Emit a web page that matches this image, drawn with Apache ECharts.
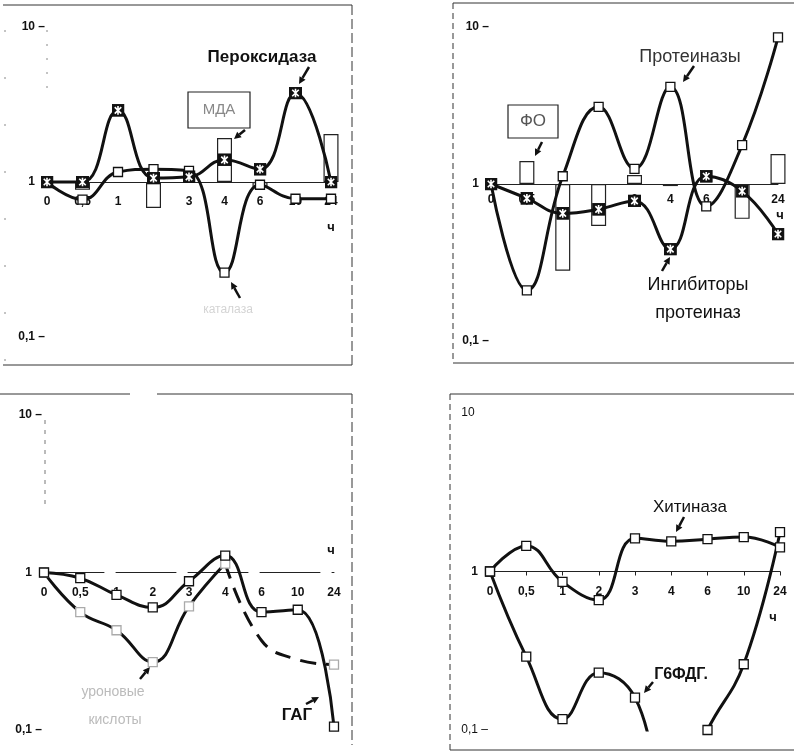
<!DOCTYPE html>
<html>
<head>
<meta charset="utf-8">
<script src="https://cdn.jsdelivr.net/npm/echarts@6/dist/echarts.min.js"></script>
<style>
  html, body { margin: 0; padding: 0; background: #fff; }
  #chart { width: 794px; height: 754px; }
</style>
</head>
<body>
<div id="chart"></div>
<script>
// Time points after treatment, hours
const hours = ['0', '0,5', '1', '2', '3', '4', '6', '10', '24'];

// Panel A: peroxidase, catalase, MDA (relative to control, log scale)
const peroxidase = [1, 1, 2.9, 1.06, 1.08, 1.39, 1.21, 3.75, 1.0];
const catalase   = [1, 0.77, 1.16, 1.21, 1.18, 0.26, 0.96, 0.78, 0.78];
const mda        = [null, 0.89, null, 0.68, null, 1.92, 0.93, null, 2.04];

// Panel B: proteinases, proteinase inhibitors, phenol oxidase
const proteinases = [1, 0.21, 1.12, 3.1, 1.25, 4.15, 0.72, 1.77, 8.6];
const inhibitors  = [1, 0.81, 0.65, 0.69, 0.78, 0.385, 1.12, 0.9, 0.48];
const phenolOx    = [null, 1.4, 0.28, 0.54, 1.14, 0.97, null, 0.6, 1.55];

// Panel C: glycosaminoglycans and uronic acids
const gag        = [1, 0.92, 0.72, 0.6, 0.88, 1.28, 0.56, 0.58, 0.105];
const uronic     = [1, 0.56, 0.43, 0.27, 0.61, 1.14, null, null, null];
const uronicLate = [null, null, null, null, null, 1.14, 0.37, 0.28, 0.26];

// Panel D: chitinase and G6PDH
const chitinase = [1, 1.45, 0.86, 0.66, 1.62, 1.55, 1.6, 1.65, 1.42];
const g6pdh     = [1, 0.29, 0.117, 0.23, 0.16, 0.03, 0.1, 0.26, 1.77];

const FONT = '"Liberation Sans", Arial, sans-serif';
const INK = '#111';

const crossSvg = "<svg xmlns='http://www.w3.org/2000/svg' width='24' height='24'>" +
  "<rect x='1' y='1' width='22' height='22' fill='#111' stroke='#111' stroke-width='2'/>" +
  "<path d='M6 6 L18 18 M18 6 L6 18 M12 4 L12 20' stroke='#fff' stroke-width='3'/></svg>";
const CROSS = 'image://data:image/svg+xml;charset=utf-8,' + encodeURIComponent(crossSvg);

const grids = [
  { left: 47,  top: 27,  width: 284, height: 310 },
  { left: 491, top: 27,  width: 287, height: 314 },
  { left: 44,  top: 415, width: 290, height: 315 },
  { left: 490, top: 413, width: 290, height: 317 }
];

const labelMargins = [14, 10, 14, 14];
const dashText = [true, true, true, false];

function xAxisFor(i) {
  return {
    type: 'category', gridIndex: i, data: hours, boundaryGap: false,
    position: 'bottom', offset: -grids[i].height / 2,
    axisLine: { show: true, lineStyle: { color: '#222', width: 1, type: i === 2 ? [60, 12] : 'solid' } },
    axisTick: { show: i === 3, length: 4, inside: false, lineStyle: { color: '#222' } },
    axisLabel: { margin: labelMargins[i], color: INK, fontSize: 12, fontWeight: 'bold', fontFamily: FONT, interval: 0 },
    splitLine: { show: false }
  };
}

function yAxisFor(i) {
  return {
    type: 'log', logBase: 10, gridIndex: i, min: 0.1, max: 10,
    axisLine: { show: false }, axisTick: { show: false }, splitLine: { show: false },
    axisLabel: {
      margin: 2, color: INK, fontSize: 12, fontWeight: i === 3 ? 'normal' : 'bold', fontFamily: FONT,
      formatter: function (v) {
        const p = Math.round(Math.log10(v));
        if (p === 1) return dashText[i] ? '10 \u2013' : '10    ';
        if (p === 0) return '{one|1}{gap|}';
        return '0,1 \u2013';
      },
      rich: {
        one: { fontSize: 12, fontWeight: 'bold', color: INK, fontFamily: FONT },
        gap: { width: 10 }
      }
    }
  };
}

function curve(i, name, data, symbol, extra) {
  return Object.assign({
    type: 'line', name: name, xAxisIndex: i, yAxisIndex: i, data: data,
    smooth: 0.45, connectNulls: false, clip: true, z: 3,
    symbol: symbol, symbolSize: symbol === CROSS ? 13 : 9, showAllSymbol: true,
    lineStyle: { color: INK, width: 3 },
    itemStyle: { color: '#fff', borderColor: INK, borderWidth: 1.3 },
    emphasis: { disabled: true }
  }, extra || {});
}

function bars(i, name, data) {
  return {
    type: 'bar', name: name, xAxisIndex: i, yAxisIndex: i, data: data,
    barWidth: 15, z: 1, clip: true,
    itemStyle: { color: '#fff', borderColor: '#222', borderWidth: 1.2 },
    emphasis: { disabled: true }
  };
}

const series = [
  bars(0, 'МДА', mda),
  curve(0, 'Каталаза', catalase, 'rect'),
  curve(0, 'Пероксидаза', peroxidase, CROSS),

  bars(1, 'ФО', phenolOx),
  curve(1, 'Протеиназы', proteinases, 'rect'),
  curve(1, 'Ингибиторы протеиназ', inhibitors, CROSS),

  curve(2, 'Уроновые кислоты', uronicLate, 'rect', {
    lineStyle: { color: INK, width: 3, type: [16, 10] },
    itemStyle: { color: '#fff', borderColor: '#aaa', borderWidth: 1.3 },
    showSymbol: true, symbolSize: function (v, p) { return p.dataIndex === 8 ? 9 : 0; }
  }),
  curve(2, 'Уроновые кислоты', uronic, 'rect', {
    itemStyle: { color: '#fff', borderColor: '#aaa', borderWidth: 1.3 }
  }),
  curve(2, 'ГАГ', gag, 'rect'),

  curve(3, 'Хитиназа', chitinase, 'rect'),
  curve(3, 'Г6ФДГ', g6pdh, 'rect')
];

function arrow(x1, y1, x2, y2) {
  const a = Math.atan2(y2 - y1, x2 - x1);
  const L = 7, W = 3.5;
  const bx = x2 - L * Math.cos(a), by = y2 - L * Math.sin(a);
  const nx = -Math.sin(a) * W, ny = Math.cos(a) * W;
  return [
    { type: 'line', silent: true, shape: { x1: x1, y1: y1, x2: bx, y2: by }, style: { stroke: INK, lineWidth: 2.5 } },
    { type: 'polygon', silent: true, shape: { points: [[x2, y2], [bx + nx, by + ny], [bx - nx, by - ny]] }, style: { fill: INK } }
  ];
}

function label(x, y, text, font, fill, align) {
  return { type: 'text', x: x, y: y, silent: true, z: 10,
    style: { text: text, font: font, fill: fill || INK, align: align || 'center', verticalAlign: 'middle' } };
}

function frameLine(x1, y1, x2, y2, dash, color) {
  return { type: 'line', silent: true, shape: { x1: x1, y1: y1, x2: x2, y2: y2 },
    style: { stroke: color || '#333', lineWidth: 1, lineDash: dash || null } };
}

const graphics = [].concat(
  // panel frames
  frameLine(3, 5, 352, 5),
  frameLine(352, 5, 352, 365, [10, 4]),
  frameLine(3, 365, 352, 365),
  frameLine(5, 30, 5, 365, [2, 45], '#888'),
  frameLine(47, 30, 47, 100, [2, 12], '#888'),
  frameLine(453, 3, 794, 3),
  frameLine(453, 3, 453, 363, [6, 4]),
  frameLine(453, 363, 794, 363),
  frameLine(0, 394, 130, 394),
  frameLine(157, 394, 352, 394),
  frameLine(352, 394, 352, 745, [10, 4]),
  frameLine(45, 420, 45, 505, [4, 6], '#777'),
  frameLine(450, 394, 794, 394),
  frameLine(450, 394, 450, 750, [6, 4]),
  frameLine(450, 750, 794, 750),

  // panel A annotations
  label(262, 57, 'Пероксидаза', 'bold 17px ' + FONT),
  arrow(309, 67, 299, 84),
  { type: 'rect', silent: true, shape: { x: 188, y: 92, width: 62, height: 36 }, style: { fill: '#fff', stroke: '#222', lineWidth: 1.2 } },
  label(219, 110, 'МДА', '15px ' + FONT, '#888'),
  arrow(245, 130, 234, 139),
  arrow(240, 298, 231, 282),
  label(228, 310, 'каталаза', '12px ' + FONT, '#d4d4d4'),
  label(331, 227, 'ч', 'bold 13px ' + FONT),

  // panel B annotations
  label(690, 57, 'Протеиназы', '18px ' + FONT, '#333'),
  arrow(694, 66, 683, 82),
  { type: 'rect', silent: true, shape: { x: 508, y: 105, width: 50, height: 33 }, style: { fill: '#fff', stroke: '#222', lineWidth: 1.2 } },
  label(533, 121, 'ФО', '17px ' + FONT, '#555'),
  arrow(542, 142, 535, 156),
  label(698, 285, 'Ингибиторы', '18px ' + FONT),
  label(698, 313, 'протеиназ', '18px ' + FONT),
  arrow(662, 271, 670, 257),
  label(780, 215, 'ч', 'bold 13px ' + FONT),

  // panel C annotations
  label(297, 715, 'ГАГ', 'bold 17px ' + FONT),
  arrow(306, 704, 319, 697),
  label(113, 692, 'уроновые', '14px ' + FONT, '#bbb'),
  label(115, 720, 'кислоты', '14px ' + FONT, '#bbb'),
  arrow(140, 679, 150, 667),
  label(331, 550, 'ч', 'bold 13px ' + FONT),

  // panel D annotations
  label(690, 507, 'Хитиназа', '17px ' + FONT),
  arrow(684, 517, 676, 532),
  label(681, 675, 'Г6ФДГ.', 'bold 16px ' + FONT),
  arrow(653, 682, 644, 693),
  label(773, 617, 'ч', 'bold 13px ' + FONT)
);

const chart = echarts.init(document.getElementById('chart'), null, { renderer: 'canvas' });
chart.setOption({
  animation: false,
  backgroundColor: '#fff',
  grid: grids.map(g => Object.assign({ containLabel: false, outerBoundsMode: 'none' }, g)),
  xAxis: [0, 1, 2, 3].map(xAxisFor),
  yAxis: [0, 1, 2, 3].map(yAxisFor),
  series: series,
  graphic: graphics
});
</script>
</body>
</html>
